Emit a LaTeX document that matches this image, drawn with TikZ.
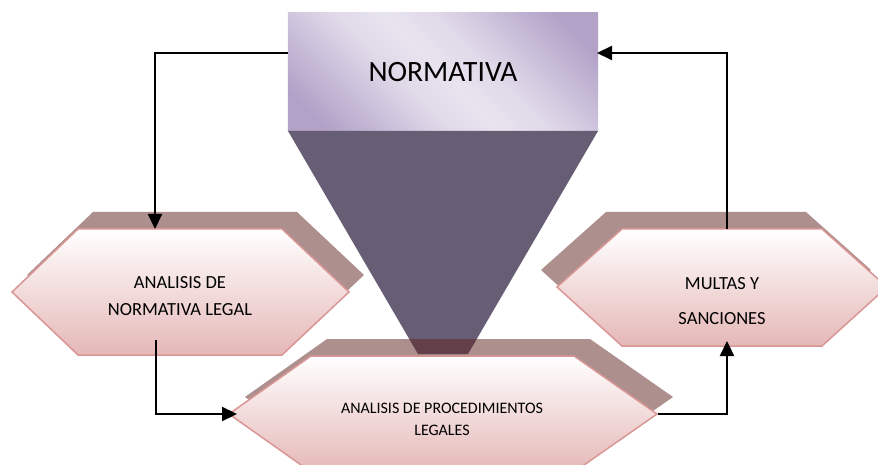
\documentclass[tikz,border=0pt]{standalone}
\usepackage{fontspec}
\setmainfont{Carlito}
\usetikzlibrary{arrows.meta}
\definecolor{funnelc}{RGB}{103,94,117}
\definecolor{shadowc}{RGB}{173,143,141}
\definecolor{overlapc}{RGB}{99,63,74}
\definecolor{hexborder}{RGB}{217,150,148}
\definecolor{hexbottom}{RGB}{229,184,183}
\definecolor{lavdark}{RGB}{178,162,199}
\definecolor{lavmid}{RGB}{202,191,218}
\definecolor{lavsoft}{RGB}{223,216,232}
\definecolor{lavlight}{RGB}{232,228,239}
\pgfdeclarehorizontalshading{normshade}{100bp}{color(0bp)=(lavdark); color(25bp)=(lavdark); color(31bp)=(lavdark); color(38bp)=(lavmid); color(44bp)=(lavsoft); color(50bp)=(lavlight); color(56bp)=(lavsoft); color(62bp)=(lavmid); color(69bp)=(lavdark); color(75bp)=(lavdark); color(100bp)=(lavdark)}
\begin{document}
\begin{tikzpicture}[x=1pt,y=-1pt,
  hexfill/.style={draw=hexborder, line width=1.5pt, top color=white, bottom color=hexbottom, line join=miter},
  shadowfill/.style={fill=shadowc},
  conn/.style={line width=2.2pt, line join=miter, -{Triangle[length=15pt,width=14pt]}},
  lbl/.style={font=\fontsize{18.5}{22}\selectfont, anchor=base, inner sep=0pt},
  smalllbl/.style={font=\fontsize{16}{20}\selectfont, anchor=base, inner sep=0pt}]
\useasboundingbox (0,0) rectangle (878,465);
\clip (0,0) rectangle (878,465);
% top box
\node[minimum width=310pt, minimum height=118pt, inner sep=0pt] (norm) at (443,72) {};
\begin{scope}
  \clip (norm.south west) rectangle (norm.north east);
  \begin{scope}[transform canvas={rotate around={45:(443,72)}}]
    \shade[shading=normshade] (283,-88) rectangle (603,232);
  \end{scope}
\end{scope}
% funnel
\fill[funnelc] (288,131) -- (598,131) -- (468,354) -- (418,354) -- cycle;
% shadows
\fill[shadowfill, shift={(15,-17)}] (12,292) -- (78,229) -- (282,229) -- (349,292) -- (282,355) -- (78,355) -- cycle;
\fill[shadowfill, shift={(16,-17)}] (229,414) -- (311,356) -- (574,356) -- (657,414) -- (574,472) -- (311,472) -- cycle;
\fill[shadowfill, shift={(-16,-17)}] (557,287) -- (622,229) -- (822,229) -- (887,287) -- (822,346) -- (622,346) -- cycle;
\begin{scope}
  \clip (288,131) -- (598,131) -- (468,354) -- (418,354) -- cycle;
  \fill[overlapc, shift={(16,-17)}] (229,414) -- (311,356) -- (574,356) -- (657,414) -- (574,472) -- (311,472) -- cycle;
\end{scope}
% hexagons
\draw[hexfill] (12,292) -- (78,229) -- (282,229) -- (349,292) -- (282,355) -- (78,355) -- cycle;
\draw[hexfill] (229,414) -- (311,356) -- (574,356) -- (657,414) -- (574,472) -- (311,472) -- cycle;
\draw[hexfill] (557,287) -- (622,229) -- (822,229) -- (887,287) -- (822,346) -- (622,346) -- cycle;
% texts
\node[font=\fontsize{29.5}{32}\selectfont, anchor=base, inner sep=0pt] (normtxt) at (443,82) {NORMATIVA};
\node[lbl] (left1) at (180,288) {ANALISIS DE};
\node[lbl] (left2) at (180,315) {NORMATIVA LEGAL};
\node[smalllbl] (bot1) at (442,413) {ANALISIS DE PROCEDIMIENTOS};
\node[smalllbl] (bot2) at (442,435) {LEGALES};
\node[lbl] (right1) at (722,289) {MULTAS Y};
\node[lbl] (right2) at (722,324) {SANCIONES};
% connector points
\coordinate (normW) at (288,53);
\coordinate (normE) at (597,53);
\coordinate (leftTop) at (155,229);
\coordinate (leftBot) at (156,340);
\coordinate (botW) at (237,414);
\coordinate (botE) at (658,414);
\coordinate (rightBot) at (727,341);
\coordinate (rightTop) at (727,229);
% connectors
\draw[conn] (normW) -- (normW -| leftTop) -- (leftTop);
\draw[conn] (leftBot) -- (leftBot |- botW) -- (botW);
\draw[conn] (botE) -- (botE -| rightBot) -- (rightBot);
\draw[conn] (rightTop) -- (rightTop |- normE) -- (normE);
\end{tikzpicture}
\end{document}
